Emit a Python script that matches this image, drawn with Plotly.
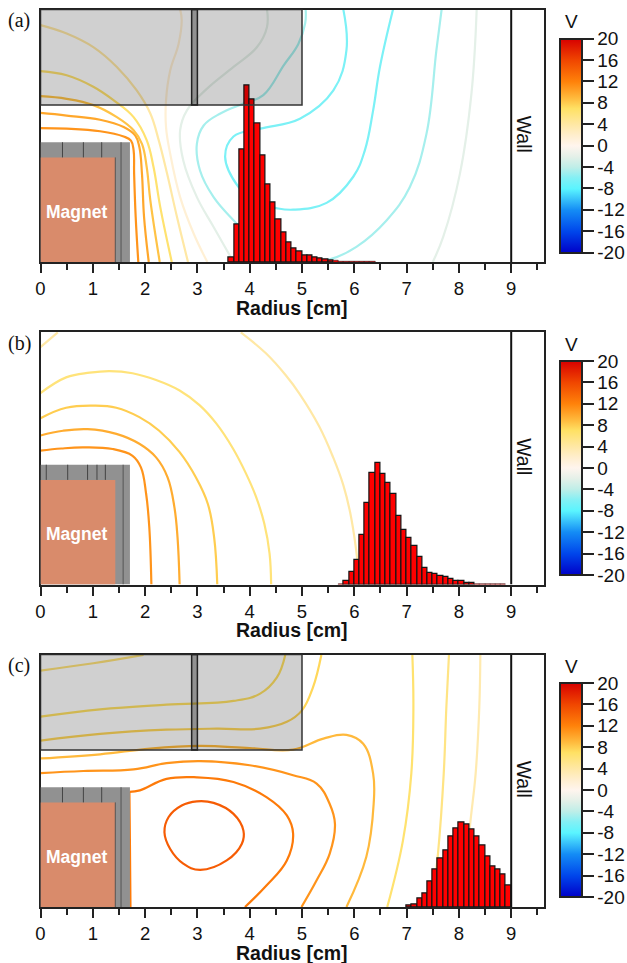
import plotly.graph_objects as go

# ---------- data ----------
COLOR_STOPS = [-20, -16, -12, -8, -6, -4, -2, 0, 2, 4, 7, 9, 12, 16, 20]
COLOR_RGB = [(0, 0, 200), (0, 70, 235), (20, 140, 245), (90, 245, 255), (130, 240, 245),
             (190, 238, 232), (228, 240, 232), (255, 245, 238), (255, 238, 205), (255, 232, 165), (255, 225, 100),
             (255, 185, 60), (255, 130, 10), (240, 70, 0), (215, 0, 0)]
CB_TICKS = [20, 16, 12, 8, 4, 0, -4, -8, -12, -16, -20]
CB_TICK_TEXT = ["20", "16", "12", "8", "4", "0", "-4", "-8", "-12", "-16", "-20"]
X_TICKS = [0, 1, 2, 3, 4, 5, 6, 7, 8, 9]

BIN_WIDTH = 0.1
A_BINS = [3.65, 3.75, 3.85, 3.95, 4.05, 4.15, 4.25, 4.35, 4.45, 4.55, 4.65, 4.75, 4.85, 4.95, 5.05, 5.15,
          5.25, 5.35, 5.45, 5.55, 5.65, 5.75, 5.85, 5.95, 6.05, 6.15, 6.25, 6.35]
A_COUNTS = [5, 37.7, 113, 177, 163, 139, 107, 78, 60, 43, 30, 20, 14, 11, 7, 7,
            5, 4, 3, 2, 1.3, 1, 0.8, 0.5, 0.5, 0.4, 0.4, 0.3]
B_BINS = [5.75, 5.85, 5.95, 6.05, 6.15, 6.25, 6.35, 6.45, 6.55, 6.65, 6.75, 6.85, 6.95, 7.05, 7.15, 7.25,
          7.35, 7.45, 7.55, 7.65, 7.75, 7.85, 7.95, 8.05, 8.15, 8.25, 8.35, 8.45, 8.55, 8.65, 8.75, 8.85]
B_COUNTS = [1, 4, 13, 25, 50, 82, 112, 122, 111, 102, 91, 69, 55, 47, 39, 28,
            17, 12, 11, 9, 8, 6, 4, 4, 2, 1.5, 1, 0.6, 0.6, 0.4, 0.4, 0.4]
C_BINS = [7.05, 7.15, 7.25, 7.35, 7.45, 7.55, 7.65, 7.75, 7.85, 7.95, 8.05, 8.15, 8.25, 8.35, 8.45, 8.55,
          8.65, 8.75, 8.85, 8.95]
C_COUNTS = [2, 3, 9, 14, 26, 38, 49, 57, 71, 79, 85, 83, 78, 71, 62, 51, 41, 38, 33, 22]

A_LEVELS = [11, 10, 8.5, 6.5, 4, 1.5, -2, -4.8, -6.3, -2]
A_X = [
    [0, 0.5, 1.14, 1.59, 1.73, 1.78, 1.79, 1.82, 1.87],
    [0, 0.5, 1.14, 1.59, 1.81, 1.89, 1.94, 1.98, 2.07],
    [0, 0.5, 1.01, 1.46, 1.78, 1.94, 2.03, 2.1, 2.28],
    [0, 0.5, 1.01, 1.4, 1.78, 2.03, 2.16, 2.29, 2.51],
    [0, 0.5, 1.01, 1.46, 1.84, 2.1, 2.26, 2.42, 2.61, 2.82],
    [2.67, 2.7, 2.64, 2.48, 2.4, 2.4, 2.48, 2.67, 2.93, 3.19],
    [4.33, 4.33, 4.14, 3.69, 3.18, 2.8, 2.67, 2.73, 2.99, 3.31, 3.69],
    [5.07, 5.06, 4.93, 4.65, 4.26, 3.88, 3.44, 3.12, 2.99, 3.05, 3.31, 3.69, 4.1, 4.6, 5.2, 5.53, 6.04, 6.62, 7.06, 7.38, 7.57, 7.67],
    [5.79, 5.85, 5.6, 4.96, 4.2, 3.69, 3.53, 3.78, 4.1, 4.51, 4.83, 5.47, 5.98, 6.2, 6.36, 6.49, 6.74],
    [7.5, 7.7, 8.02, 8.24, 8.34],
]
A_Y = [
    [2.56, 2.55, 2.5, 2.4, 2.32, 2.14, 1.69, 0.86, 0],
    [2.85, 2.8, 2.72, 2.58, 2.42, 2.2, 1.69, 0.86, 0],
    [3.17, 3.12, 3.0, 2.77, 2.52, 2.26, 1.82, 1.18, 0],
    [3.65, 3.57, 3.35, 3.09, 2.77, 2.33, 1.82, 1.05, 0],
    [4.53, 4.37, 4.11, 3.73, 3.28, 2.84, 2.33, 1.69, 0.86, 0],
    [4.83, 4.62, 4.17, 3.66, 3.09, 2.58, 2.07, 1.24, 0.54, 0],
    [4.83, 4.49, 4.11, 3.73, 3.31, 2.9, 2.52, 1.94, 1.24, 0.67, 0],
    [4.83, 4.56, 4.17, 3.76, 3.19, 3.03, 2.84, 2.61, 2.26, 1.75, 1.24, 0.8, 0.4, 0.14, 0.02, 0.05, 0.29, 0.8, 1.43, 2.45, 4.05, 4.83],
    [4.83, 4.05, 3.28, 2.74, 2.55, 2.4, 2.01, 1.44, 1.15, 1.03, 1.0, 1.13, 1.63, 2.13, 2.9, 3.73, 4.83],
    [0, 0.48, 1.69, 3.22, 4.83],
]
B_LEVELS = [11, 9.7, 8, 6, 4, 4]
B_X = [
    [0, 0.4, 0.81, 1.38, 1.76, 1.92, 2.02, 2.08, 2.12],
    [0, 0.43, 0.9, 1.45, 1.89, 2.21, 2.43, 2.56, 2.62, 2.66],
    [0, 0.49, 1.03, 1.45, 1.89, 2.27, 2.66, 2.97, 3.2, 3.32, 3.38],
    [0, 0.49, 0.94, 1.32, 1.76, 2.21, 2.66, 3.04, 3.36, 3.68, 3.93, 4.12, 4.28, 4.38, 4.41],
    [0, 0.33],
    [3.83, 4.31, 4.69, 4.95, 5.33, 5.6, 5.79, 5.92, 6.03, 6.1],
]
B_Y = [
    [2.56, 2.6, 2.62, 2.59, 2.46, 2.24, 1.73, 1.1, 0],
    [2.85, 2.94, 2.97, 2.88, 2.69, 2.43, 2.05, 1.48, 0.9, 0],
    [3.18, 3.38, 3.42, 3.38, 3.2, 2.94, 2.53, 2.05, 1.54, 0.9, 0],
    [3.66, 3.96, 4.05, 4.08, 4.04, 3.91, 3.71, 3.43, 3.08, 2.6, 2.12, 1.68, 1.16, 0.59, 0],
    [4.54, 4.82],
    [4.82, 4.42, 4.0, 3.65, 3.02, 2.42, 1.9, 1.38, 0.7, 0],
]
C_LEVELS = [14.5, 12.5, 12.5, 11, 9, 7.5, 7, 6, 6.5, 5.5, 3.5]
C_X = [
    [2.99, 3.31, 3.69, 3.88, 3.85, 3.56, 3.05, 2.73, 2.48, 2.37, 2.45, 2.7, 2.99],
    [1.72, 1.71, 1.7],
    [1.7, 1.9, 2.41, 2.99, 3.69, 4.32, 4.71, 4.83, 4.71, 4.32, 3.91],
    [0, 0.82, 1.78, 2.41, 3.05, 4.0, 4.83, 5.28, 5.53, 5.63, 5.53, 5.28, 4.99],
    [0, 1.14, 2.1, 3.05, 4.0, 4.83, 5.41, 5.85, 6.17, 6.36, 6.37, 6.23, 5.85],
    [0, 1.14, 2.41, 3.37, 4.2, 4.71, 5.0, 5.21, 5.37],
    [0, 1.14, 2.41, 3.69, 4.2, 4.52, 4.68],
    [0, 1.01, 1.97],
    [7.11, 7.13, 7.09, 6.93, 6.63],
    [7.81, 7.76, 7.71, 7.6, 7.48],
    [8.41, 8.39, 8.32, 8.21, 8.08],
]
C_Y = [
    [2.02, 1.99, 1.78, 1.46, 1.21, 0.89, 0.71, 0.83, 1.11, 1.43, 1.72, 1.94, 2.02],
    [0, 1.2, 2.2],
    [2.2, 2.23, 2.45, 2.48, 2.39, 2.1, 1.75, 1.4, 0.89, 0.41, 0],
    [2.56, 2.6, 2.63, 2.75, 2.79, 2.71, 2.52, 2.36, 1.97, 1.59, 1.02, 0.51, 0],
    [2.84, 2.92, 3.03, 3.08, 3.04, 3.01, 3.22, 3.29, 3.12, 2.55, 1.97, 0.96, 0],
    [3.18, 3.31, 3.39, 3.41, 3.41, 3.54, 3.76, 4.2, 4.82],
    [3.64, 3.78, 3.87, 3.94, 4.08, 4.39, 4.82],
    [4.52, 4.66, 4.82],
    [4.82, 3.82, 2.55, 1.27, 0],
    [4.82, 3.82, 2.55, 1.02, 0],
    [4.82, 3.82, 2.55, 1.53, 0],
]
A_CASE_LINES = [0.42, 0.82, 1.17]
B_CASE_LINES = [0.11, 0.52, 0.9, 1.08, 1.24]
C_CASE_LINES = [0.42, 0.82, 1.17]
A_CASE_LONG = [1.43, 1.54]
B_CASE_LONG = [1.58]
C_CASE_LONG = [1.43, 1.54]

# ---------- layout ----------
W, H = 627, 963
PX_L, PX_R = 40.5, 543.5
PX_TOP = [9.5, 332, 654.5]
PANEL_H = 252.5
X_MAX = (PX_R - PX_L) / 52.3
Y_MAX = PANEL_H / 52.3
COUNT_MAX = PANEL_H
CB_PX_L = 560
CB_TOP = [38.5, 361, 683]
CB_LEN = 214
FRAME = "#222222"
FONT = "Liberation Sans"


def level_color(v):
    for i in range(len(COLOR_STOPS) - 1):
        a, b = COLOR_STOPS[i], COLOR_STOPS[i + 1]
        if a <= v <= b:
            t = (v - a) / (b - a)
            c = [round(COLOR_RGB[i][k] + t * (COLOR_RGB[i + 1][k] - COLOR_RGB[i][k])) for k in range(3)]
            return f"rgb({c[0]},{c[1]},{c[2]})"
    return "rgb(0,0,0)"


colorscale = [[(s + 20) / 40, f"rgb{c}"] for s, c in zip(COLOR_STOPS, COLOR_RGB)]
fig = go.Figure()
layout = dict(width=W, height=H, margin=dict(l=0, r=0, t=0, b=0, autoexpand=False), autosize=False,
              plot_bgcolor="white", paper_bgcolor="white", showlegend=False,
              font=dict(family=FONT, size=19, color="#111"), bargap=0)
shapes, annos = [], []

panels = [
    ("(a)", A_LEVELS, A_X, A_Y, A_BINS, A_COUNTS, A_CASE_LINES, A_CASE_LONG, True),
    ("(b)", B_LEVELS, B_X, B_Y, B_BINS, B_COUNTS, B_CASE_LINES, B_CASE_LONG, False),
    ("(c)", C_LEVELS, C_X, C_Y, C_BINS, C_COUNTS, C_CASE_LINES, C_CASE_LONG, True),
]
for i, (tag, levels, xs, ys, bx, bc, clines, clong, has_box) in enumerate(panels):
    n = i + 1
    xname = "x" if n == 1 else f"x{n}"
    yname = "y" if n == 1 else f"y{n}"
    y2name = f"y{n + 3}"
    top = PX_TOP[i]
    dom = [1 - (top + PANEL_H) / H, 1 - top / H]
    layout["xaxis" if n == 1 else f"xaxis{n}"] = dict(
        domain=[PX_L / W, PX_R / W], range=[0, X_MAX], anchor=yname,
        tickvals=X_TICKS, ticks="outside", ticklen=9, tickwidth=2, tickcolor=FRAME,
        minor=dict(dtick=0.5, ticklen=6, tickwidth=2, tickcolor=FRAME, ticks="outside"),
        showline=True, linewidth=2, linecolor=FRAME, mirror=True, showgrid=False, zeroline=False,
        tickfont=dict(size=18.5))
    layout["yaxis" if n == 1 else f"yaxis{n}"] = dict(
        domain=dom, range=[0, Y_MAX], anchor=xname, showticklabels=False, ticks="",
        showline=True, linewidth=2, linecolor=FRAME, mirror=True, showgrid=False, zeroline=False)
    layout[f"yaxis{n + 3}"] = dict(domain=dom, range=[0, COUNT_MAX], anchor=xname, overlaying=yname, side="right",
                                   showticklabels=False, ticks="", showline=False, showgrid=False, zeroline=False)

    # contours
    for lv, x, y in zip(levels, xs, ys):
        fig.add_trace(go.Scatter(x=x, y=y, mode="lines", xaxis=xname, yaxis=yname, hoverinfo="skip",
                                 line=dict(color=level_color(lv), width=2.2, shape="spline", smoothing=1.15)))
    # histogram
    fig.add_trace(go.Bar(x=bx, y=bc, width=BIN_WIDTH, xaxis=xname, yaxis=y2name,
                         marker=dict(color="#ff0000",
                                     line=dict(color="#151515", width=[1.2 if c >= 1.5 else 0.5 for c in bc]))))
    # colour bar
    ca = "coloraxis" if n == 1 else f"coloraxis{n}"
    fig.add_trace(go.Scatter(x=[None], y=[None], mode="markers", xaxis=xname, yaxis=yname,
                             marker=dict(color=[0], coloraxis=ca)))
    layout[ca] = dict(cmin=-20, cmax=20, colorscale=colorscale, colorbar=dict(
        x=CB_PX_L / W, xanchor="left", xpad=0, ypad=0, y=1 - CB_TOP[i] / H, yanchor="top",
        thicknessmode="pixels", thickness=22, lenmode="pixels", len=CB_LEN,
        outlinewidth=2, outlinecolor=FRAME, borderwidth=0,
        tickvals=CB_TICKS, ticktext=CB_TICK_TEXT, ticks="outside", ticklen=11, tickwidth=2, tickcolor=FRAME,
        tickfont=dict(size=19, family=FONT)))

    def rect(x0, x1, y0, y1, fill, line_color=None, lw=0):
        shapes.append(dict(type="rect", xref=xname, yref=yname, x0=x0, x1=x1, y0=y0, y1=y1, layer="above",
                           fillcolor=fill, line=dict(color=line_color or fill, width=lw)))

    def vline(x, y0, y1, color, lw):
        shapes.append(dict(type="line", xref=xname, yref=yname, x0=x, x1=x, y0=y0, y1=y1, layer="above",
                           line=dict(color=color, width=lw)))

    # magnet + casing
    rect(0, 1.71, 0, 2.29, "#919191")
    rect(0, 1.43, 0, 2.0, "#d98b6b")
    for x in clines:
        vline(x, 2.0, 2.29, "#444", 1)
    for x in clong:
        vline(x, 0, 2.29 if x > 1.5 else 2.0, "#555", 1)
    # upper electrode
    if has_box:
        rect(0, 5, 3.0, Y_MAX, "rgba(0,0,0,0.185)", "#333", 1.5)
        rect(2.89, 3.0, 3.0, Y_MAX, "rgba(0,0,0,0.3)", "#222", 1.5)
    # wall
    vline(9, 0, Y_MAX, "#111", 2)

    annos.append(dict(xref=xname, yref=yname, x=0.68, y=0.96,
                      text="<b>Magnet</b>", showarrow=False, font=dict(size=17.5, color="white")))
    annos.append(dict(xref=xname, yref=yname, x=9.24, y=2.44, text="Wall", textangle=90, showarrow=False,
                      font=dict(size=19.5)))
    annos.append(dict(xref="paper", yref="paper", x=6 / W, y=1 - (top + 11) / H, xanchor="left", yanchor="middle",
                      text=tag, showarrow=False, font=dict(family="Liberation Serif", size=20)))
    annos.append(dict(xref="paper", yref="paper", x=571 / W, y=1 - (CB_TOP[i] - 16.5) / H, xanchor="center",
                      yanchor="middle", text="V", showarrow=False, font=dict(size=19)))
    annos.append(dict(xref="paper", yref="paper", x=291.5 / W, y=1 - (top + PANEL_H + 45.5) / H, xanchor="center",
                      yanchor="middle", text="<b>Radius [cm]</b>", showarrow=False, font=dict(size=19.5)))

layout["shapes"] = shapes
layout["annotations"] = annos
fig.update_layout(**layout)
fig.write_html("out.html", config={"displayModeBar": False},
               post_script="document.body.style.margin='0';document.body.style.overflow='hidden';")
